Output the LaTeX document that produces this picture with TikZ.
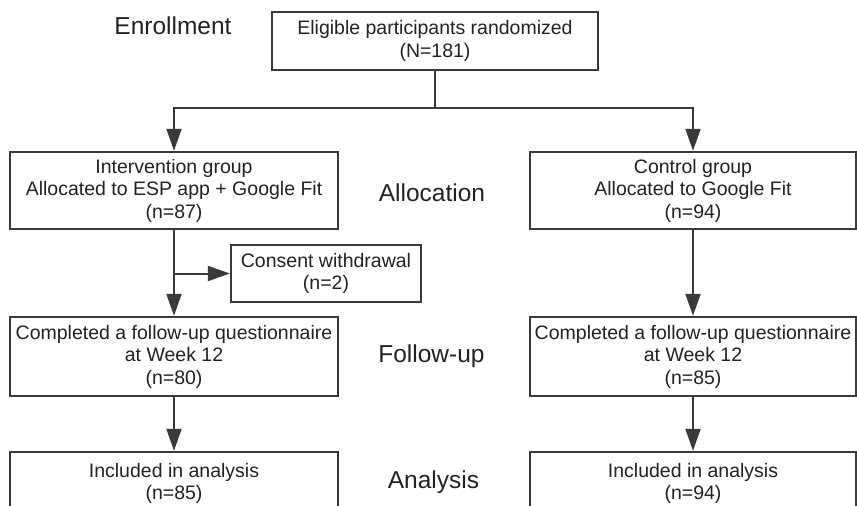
\documentclass[tikz,border=0pt]{standalone}
\usepackage{fontspec}
\setmainfont{Liberation Sans}
\usetikzlibrary{arrows.meta}
\definecolor{mygray}{RGB}{58,58,58}
\definecolor{mytext}{RGB}{34,34,34}

\begin{document}
\begin{tikzpicture}[x=1pt,y=-1pt,
    flowbox/.style={draw=mygray,line width=2.4pt,fill=white,text=mytext,align=center,inner sep=1pt,
        font=\fontsize{19.5}{22.5}\selectfont},
    stage/.style={text=mytext,font=\fontsize{24.5}{28}\selectfont},
    arr/.style={draw=mygray,line width=2pt,-{Triangle[length=22pt,width=15pt]}}]
            \useasboundingbox (0,0) rectangle (857,506);
            \node[flowbox,minimum width=326,minimum height=58] (rand) at (435,41) {Eligible participants randomized\\(N=181)};
            \node[flowbox,minimum width=328,minimum height=77] (intv) at (174,190.5) {Intervention group\\Allocated to ESP app + Google Fit\\(n=87)};
            \node[flowbox,minimum width=326,minimum height=77] (ctrl) at (693,190.5) {Control group\\Allocated to Google Fit\\(n=94)};
            \node[flowbox,minimum width=190,minimum height=57] (cons) at (326,273.5) {Consent withdrawal\\(n=2)};
            \node[flowbox,minimum width=328,minimum height=79] (fuintv) at (174,356.5) {Completed a follow-up questionnaire\\at Week 12\\(n=80)};
            \node[flowbox,minimum width=326,minimum height=79] (fuctrl) at (693,356.5) {Completed a follow-up questionnaire\\at Week 12\\(n=85)};
            \node[flowbox,minimum width=328,minimum height=63] (anintv) at (174,483.5) {Included in analysis\\(n=85)};
            \node[flowbox,minimum width=326,minimum height=63] (anctrl) at (693,483.5) {Included in analysis\\(n=94)};
            \node[stage] (enrol) at (173,26) {Enrollment};
            \node[stage] (alloc) at (432,193) {Allocation};
            \node[stage] (follow) at (431.5,356) {Follow-up};
            \node[stage] (analy) at (433.5,482) {Analysis};
            \coordinate (split) at (435,108);
            \draw[draw=mygray,line width=2pt] (rand.south) -- (split);
            \draw[arr] (split) -| (intv.north);
            \draw[arr] (split) -| (ctrl.north);
            \draw[arr] (intv.south) -- (fuintv.north);
            \draw[arr] (intv.south |- cons.west) -- (cons.west);
            \draw[arr] (ctrl.south) -- (fuctrl.north);
            \draw[arr] (fuintv.south) -- (anintv.north);
            \draw[arr] (fuctrl.south) -- (anctrl.north);
        \end{tikzpicture}
\end{document}
